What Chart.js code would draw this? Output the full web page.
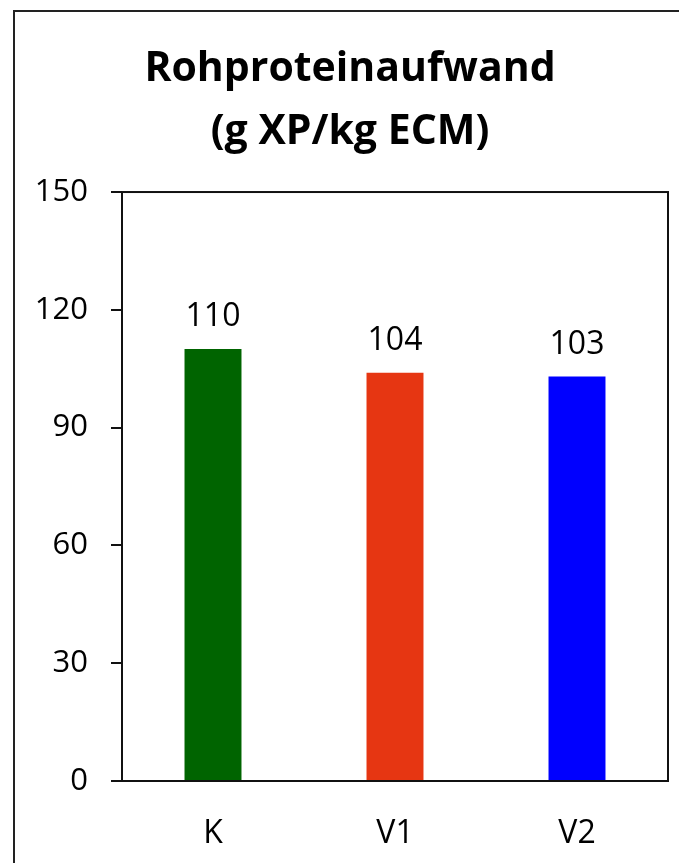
<!DOCTYPE html>
<html>
<head>
<meta charset="utf-8">
<script src="https://cdn.jsdelivr.net/npm/chart.js@4"></script>
<style>
  html, body { margin: 0; padding: 0; background: #fff; overflow: hidden; }
  #wrap { width: 679px; height: 863px; position: relative; }
</style>
</head>
<body>
<div id="wrap"><canvas id="chart" width="679" height="863"></canvas></div>
<script>
    // Chart data
    const categories = ['K', 'V1', 'V2'];
    const values = [110, 104, 103];
    const barColors = ['#006400', '#e63612', '#0000ff'];
    const yTicks = [0, 30, 60, 90, 120, 150];
    const titleLines = ['Rohproteinaufwand', '(g XP/kg ECM)'];

    const fontFamily = "'Open Sans', 'Liberation Sans', sans-serif";

    // Outer frame and plot box
    const framePlugin = {
      id: 'frame',
      beforeDraw(chart) {
        const ctx = chart.ctx;
        ctx.save();
        ctx.strokeStyle = '#222';
        ctx.lineWidth = 2;
        ctx.strokeRect(14, 11, 720, 900);
        ctx.restore();
      },
      afterDatasetsDraw(chart) {
        const ctx = chart.ctx;
        const a = chart.chartArea;
        ctx.save();
        ctx.strokeStyle = '#111';
        ctx.lineWidth = 2;
        ctx.strokeRect(a.left, a.top, a.right - a.left, a.bottom - a.top);
        ctx.restore();
      }
    };

    // Value labels above the bars
    const valueLabels = {
      id: 'valueLabels',
      afterDatasetsDraw(chart) {
        const ctx = chart.ctx;
        const meta = chart.getDatasetMeta(0);
        ctx.save();
        ctx.font = '32px ' + fontFamily;
        ctx.fillStyle = '#000';
        ctx.textAlign = 'center';
        ctx.textBaseline = 'middle';
        meta.data.forEach((bar, i) => {
          ctx.fillText(String(values[i]), bar.x, bar.y - 32);
        });
        ctx.restore();
      }
    };

    new Chart(document.getElementById('chart'), {
      type: 'bar',
      data: {
        labels: categories,
        datasets: [{
          data: values,
          backgroundColor: barColors,
          borderWidth: 0,
          barPercentage: 0.313,
          categoryPercentage: 1
        }]
      },
      options: {
        responsive: false,
        animation: false,
        devicePixelRatio: 1,
        layout: { padding: { left: 32, right: 11, top: 0, bottom: 0 } },
        plugins: {
          legend: { display: false },
          tooltip: { enabled: false },
          title: {
            display: true,
            text: titleLines,
            color: '#000',
            font: { family: fontFamily, size: 41, weight: 'bold', lineHeight: 1.537 },
            padding: { top: 38, bottom: 28 }
          }
        },
        scales: {
          x: {
            grid: { display: false },
            border: { display: false },
            ticks: {
              color: '#000',
              padding: 26,
              font: { family: fontFamily, size: 32 }
            },
            afterFit(scale) { scale.height = 82; }
          },
          y: {
            min: 0,
            max: 150,
            afterBuildTicks(scale) {
              scale.ticks = yTicks.map(v => ({ value: v }));
            },
            grid: {
              drawOnChartArea: false,
              drawTicks: true,
              tickLength: 11,
              color: '#111',
              lineWidth: 2
            },
            border: { display: false },
            ticks: {
              color: '#000',
              padding: 23,
              font: { family: fontFamily, size: 31 }
            },
            afterFit(scale) { scale.width = 90; }
          }
        }
      },
      plugins: [framePlugin, valueLabels]
    });
</script>
</body>
</html>
